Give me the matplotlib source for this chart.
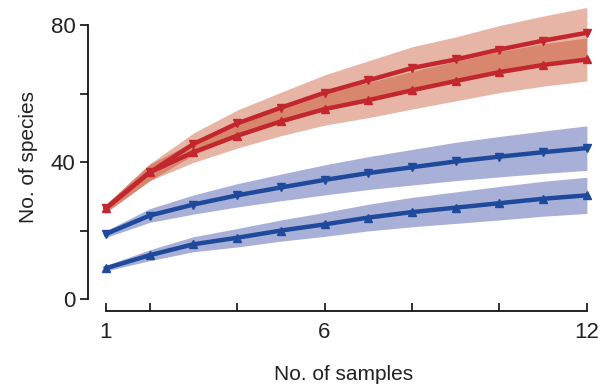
import numpy as np
import matplotlib
matplotlib.use('Agg')
import matplotlib.pyplot as plt

plt.rcParams['font.family'] = ['Liberation Sans', 'DejaVu Sans']

samples = [1, 2, 3, 4, 5, 6, 7, 8, 9, 10, 11, 12]

# red series (upper one: down triangles, lower one: up triangles)
red_top = [26.5, 37.0, 45.3, 51.3, 55.9, 60.3, 63.9, 67.5, 70.0, 72.9, 75.5, 77.8]
red_top_ci = [1.2, 2.5, 3.2, 3.9, 4.5, 5.2, 5.7, 6.2, 6.6, 7.0, 7.2, 7.4]
red_low = [26.5, 37.0, 42.9, 47.7, 51.9, 55.5, 58.1, 61.0, 63.7, 66.3, 68.4, 70.0]
red_low_ci = [1.2, 2.4, 3.0, 3.6, 4.2, 4.7, 5.1, 5.5, 5.8, 6.0, 6.2, 6.3]

# blue series
blue_top = [19.0, 24.4, 27.6, 30.3, 32.6, 34.8, 36.8, 38.5, 40.2, 41.6, 42.9, 44.1]
blue_top_ci = [1.0, 2.0, 2.8, 3.4, 3.9, 4.4, 4.8, 5.2, 5.6, 5.9, 6.2, 6.5]
blue_low = [9.0, 12.8, 16.0, 17.9, 20.0, 21.8, 23.8, 25.4, 26.7, 28.0, 29.3, 30.3]
blue_low_ci = [0.8, 1.6, 2.2, 2.7, 3.1, 3.5, 3.9, 4.3, 4.6, 4.9, 5.1, 5.3]

red_line = '#c1272d'
red_band = (190 / 255, 52 / 255, 10 / 255)
blue_line = '#1f4a9c'
blue_band = (19 / 255, 36 / 255, 147 / 255)

fig = plt.figure(figsize=(6.09, 3.85), dpi=100)
ax = fig.add_axes([88 / 609, 74 / 385, 512 / 609, 308 / 385])

x = np.array(samples)
series = [
    (red_top, red_top_ci, red_band, red_line, 'v'),
    (red_low, red_low_ci, red_band, red_line, '^'),
    (blue_top, blue_top_ci, blue_band, blue_line, 'v'),
    (blue_low, blue_low_ci, blue_band, blue_line, '^'),
]

for m, ci, bc, lc, mk in series:
    m = np.array(m)
    ci = np.array(ci)
    ax.fill_between(x, m - ci, m + ci, color=bc, alpha=0.36, lw=0, zorder=1)

for m, ci, bc, lc, mk in series:
    ax.plot(x, m, color=lc, lw=3.2, marker=mk, ms=5.5, mec=lc, mfc=lc, zorder=3)

ax.set_xlim(0.59, 12.3)
ax.set_ylim(-3.5, 86.5)

ax.spines['top'].set_visible(False)
ax.spines['right'].set_visible(False)
ax.spines['left'].set_bounds(0, 80)
ax.spines['bottom'].set_bounds(1, 12)
ax.spines['left'].set_linewidth(1.3)
ax.spines['bottom'].set_linewidth(1.3)

ax.set_xticks([1, 2, 4, 6, 8, 10, 12])
ax.set_xticklabels(['1', '', '', '6', '', '', '12'])
ax.set_yticks([0, 20, 40, 60, 80])
ax.set_yticklabels(['0', '', '40', '', '80'])
ax.tick_params(axis='x', direction='in', length=6, width=1.3, pad=8, labelsize=16, colors='#222222')
ax.tick_params(axis='y', direction='out', length=6, width=1.3, pad=3, labelsize=16, colors='#222222')
for s in ['left', 'bottom']:
    ax.spines[s].set_color('#111111')

ax.set_xlabel('No. of samples', fontsize=15, labelpad=16, color='#222222')
ax.set_ylabel('No. of species', fontsize=15, labelpad=9, color='#222222')

fig.savefig('out.png', dpi=100)
